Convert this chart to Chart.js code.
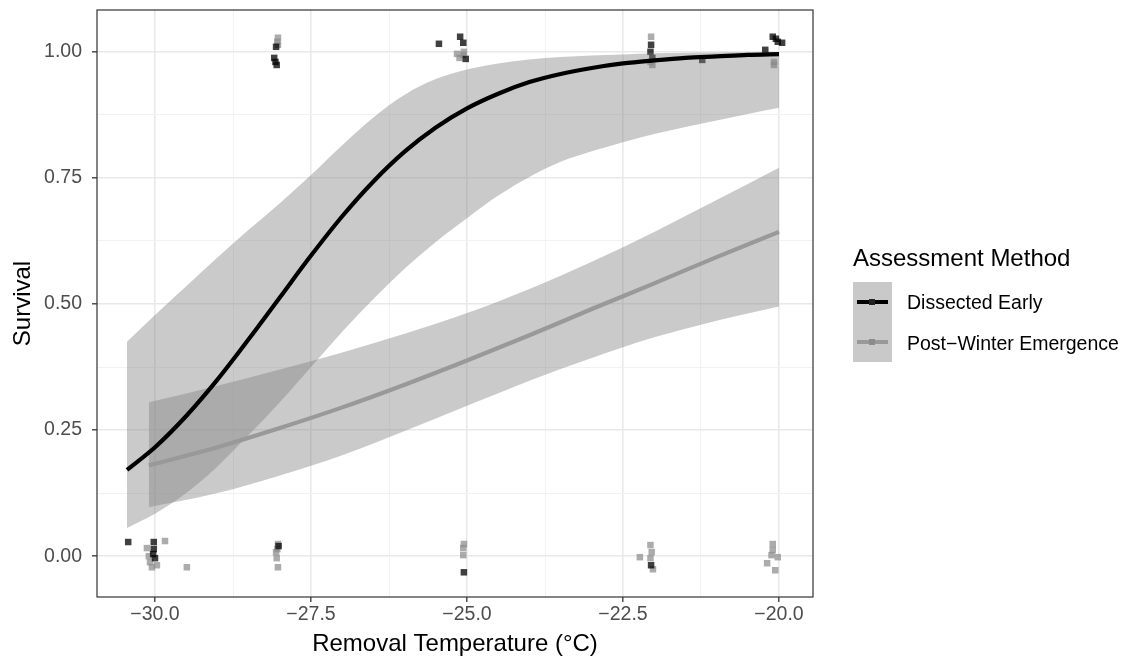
<!DOCTYPE html>
<html>
<head>
<meta charset="utf-8">
<script src="https://cdn.jsdelivr.net/npm/chart.js@4.4.1/dist/chart.umd.min.js"></script>
<style>
    body { margin: 0; background: #fff; font-family: 'Liberation Sans', Arial, sans-serif; }
    #wrap { position: relative; width: 1137px; height: 663px; }
    #legend { position: absolute; left: 0; top: 0; width: 1137px; height: 663px; pointer-events: none; }
    .lg-title { position: absolute; left: 853px; top: 244px; font-size: 24px; line-height: 28px; color: #000; white-space: nowrap; }
    .lg-key { position: absolute; left: 853px; width: 39px; height: 40px; background: #c9c9c9; }
    .lg-line { position: absolute; left: 4px; right: 4px; top: 18px; height: 4px; }
    .lg-dot { position: absolute; left: 16px; top: 17px; width: 6px; height: 6px; }
    .lg-label { position: absolute; left: 907px; font-size: 19.5px; line-height: 24px; color: #000; white-space: nowrap; }
</style>
</head>
<body>
<div id="wrap">
    <canvas id="survivalChart"></canvas>
    <div id="legend">
        <div class="lg-title">Assessment Method</div>
        <div class="lg-key" style="top:282px">
            <div class="lg-line" style="background:#000"></div><div class="lg-dot" style="background:#222"></div>
        </div>
        <div class="lg-key" style="top:322px">
            <div class="lg-line" style="background:#999"></div><div class="lg-dot" style="background:#8c8c8c"></div>
        </div>
        <div class="lg-label" style="top:290px">Dissected Early</div>
        <div class="lg-label" style="top:331px">Post−Winter Emergence</div>
    </div>
</div>
<script>
'use strict';

// ── Data ──────────────────────────────────────────────────────────────────────

const X_MAJOR = [-30, -27.5, -25, -22.5, -20];
const X_MINOR = [-28.75, -26.25, -23.75, -21.25];
const Y_MAJOR = [0, 0.25, 0.5, 0.75, 1];
const Y_MINOR = [0.125, 0.375, 0.625, 0.875];

// fitted curve + confidence band, Dissected Early
const earlyFitX = [-30.45, -30, -29.5, -29, -28.5, -28, -27.5, -27, -26.5, -26, -25.5, -25,
    -24.5, -24, -23.5, -23, -22.5, -22, -21.5, -21, -20.5, -20];
const earlyFit = [0.171, 0.216, 0.278, 0.35, 0.43, 0.513, 0.596, 0.674, 0.743, 0.802, 0.85, 0.888,
    0.917, 0.94, 0.956, 0.968, 0.977, 0.983, 0.988, 0.991, 0.994, 0.9955];
const earlyUpper = [0.425, 0.478, 0.535, 0.592, 0.647, 0.70, 0.756, 0.815, 0.87, 0.915, 0.946, 0.965,
    0.977, 0.985, 0.99, 0.993, 0.995, 0.997, 0.998, 0.9985, 0.999, 0.9993];
const earlyLower = [0.056, 0.084, 0.125, 0.178, 0.24, 0.305, 0.375, 0.445, 0.51, 0.57, 0.623, 0.67,
    0.715, 0.752, 0.782, 0.803, 0.821, 0.837, 0.851, 0.864, 0.877, 0.889];

// fitted curve + confidence band, Post-Winter Emergence
const emergFitX = [-30.1, -29, -28, -27, -26, -25, -24, -23, -22, -21, -20];
const emergFit = [0.18, 0.216, 0.254, 0.295, 0.34, 0.388, 0.438, 0.49, 0.541, 0.593, 0.643];
const emergUpper = [0.305, 0.338, 0.37, 0.404, 0.441, 0.482, 0.53, 0.584, 0.643, 0.706, 0.77];
const emergLower = [0.097, 0.125, 0.16, 0.20, 0.248, 0.298, 0.348, 0.393, 0.434, 0.467, 0.495];

// jittered observations
const earlyPtX = [-30.43, -30.02, -30.03, -30.0, -30.02,
    -28.06, -28.09, -28.05, -28.07, -28.02,
    -25.45, -25.11, -25.06, -25.02, -25.05,
    -22.05, -22.06, -22.03, -21.23, -22.05,
    -20.1, -20.02, -19.95, -20.22, -20.05];
const earlyPtY = [0.028, 0.028, 0.004, -0.004, 0.014,
    1.01, 0.988, 0.974, 0.98, 0.02,
    1.016, 1.03, 1.018, 0.986, -0.032,
    1.014, 1.0, 0.988, 0.984, -0.018,
    1.03, 1.02, 1.018, 1.004, 1.026];

const emergPtX = [-29.84, -30.13, -30.08, -30.05, -29.49, -29.97, -30.1,
    -28.03, -28.04, -28.03,
    -28.03, -28.06, -28.05, -28.03, -28.04,
    -25.16, -25.06, -25.12, -25.05,
    -25.05, -25.06, -25.06,
    -22.05, -22.03, -22.06,
    -22.06, -22.04, -22.23, -22.02, -22.06,
    -20.08, -20.08,
    -20.1, -20.12, -20.02, -20.19, -20.06, -20.1];
const emergPtY = [0.03, 0.016, -0.012, -0.022, -0.022, -0.018, 0.0,
    1.028, 1.02, 1.014,
    0.024, 0.008, -0.004, -0.022, 0.014,
    0.996, 0.994, 0.988, 1.0,
    0.024, 0.016, 0.002,
    1.03, 0.974, 0.98,
    0.022, 0.008, -0.002, -0.026, -0.004,
    0.98, 0.974,
    0.024, 0.002, -0.002, -0.014, -0.028, 0.012];

// ── Helpers ───────────────────────────────────────────────────────────────────

const RIBBON = 'rgba(128,128,128,0.42)';
const FONT = "'Liberation Sans', Arial, sans-serif";

function xy(xs, ys) {
    return xs.map((x, i) => ({ x, y: ys[i] }));
}

function minus(s) {
    return s.replace('-', '\u2212');
}

function isMajor(list, v) {
    return list.some(m => Math.abs(m - v) < 1e-9);
}

function gridOpts(major) {
    return {
        color: ctx => isMajor(major, ctx.tick.value) ? '#e9e9e9' : '#f1f1f1',
        lineWidth: ctx => isMajor(major, ctx.tick.value) ? 1.6 : 0.9,
        tickColor: ctx => isMajor(major, ctx.tick.value) ? '#333' : 'rgba(0,0,0,0)',
        tickLength: 5,
        tickWidth: 1.3,
    };
}

const panelBorder = {
    id: 'panelBorder',
    afterDatasetsDraw(chart) {
        const { ctx, chartArea: a } = chart;
        ctx.save();
        ctx.strokeStyle = '#333';
        ctx.lineWidth = 1.2;
        ctx.strokeRect(a.left, a.top, a.right - a.left, a.bottom - a.top);
        ctx.restore();
    },
};

// ── Chart ─────────────────────────────────────────────────────────────────────

const lineBase = { type: 'line', pointRadius: 0, cubicInterpolationMode: 'monotone', fill: false };

new Chart(document.getElementById('survivalChart').getContext('2d'), {
    type: 'scatter',
    data: {
        datasets: [
            { label: 'emergPts', data: xy(emergPtX, emergPtY), order: 10, pointStyle: 'rect',
                pointRadius: 4.6, backgroundColor: 'rgba(140,140,140,0.72)', borderWidth: 0 },
            { label: 'earlyPts', data: xy(earlyPtX, earlyPtY), order: 9, pointStyle: 'rect',
                pointRadius: 4.6, backgroundColor: 'rgba(0,0,0,0.75)', borderWidth: 0 },
            { ...lineBase, label: 'earlyLower', data: xy(earlyFitX, earlyLower), order: 8, borderWidth: 0 },
            { ...lineBase, label: 'earlyUpper', data: xy(earlyFitX, earlyUpper), order: 7, borderWidth: 0,
                fill: '-1', backgroundColor: RIBBON },
            { ...lineBase, label: 'emergLower', data: xy(emergFitX, emergLower), order: 6, borderWidth: 0 },
            { ...lineBase, label: 'emergUpper', data: xy(emergFitX, emergUpper), order: 5, borderWidth: 0,
                fill: '-1', backgroundColor: RIBBON },
            { ...lineBase, label: 'Post−Winter Emergence', data: xy(emergFitX, emergFit), order: 2,
                borderColor: '#999', borderWidth: 4.2 },
            { ...lineBase, label: 'Dissected Early', data: xy(earlyFitX, earlyFit), order: 1,
                borderColor: '#000', borderWidth: 4.2 },
        ],
    },
    options: {
        responsive: true,
        maintainAspectRatio: false,
        animation: false,
        layout: { padding: { top: 10, right: 324, left: 0, bottom: 0 } },
        plugins: {
            legend: { display: false },
            tooltip: { enabled: false },
            filler: { drawTime: 'beforeDatasetDraw' },
        },
        scales: {
            x: {
                type: 'linear',
                min: -30.93,
                max: -19.455,
                afterBuildTicks: s => { s.ticks = [...X_MAJOR, ...X_MINOR].sort((a, b) => a - b).map(v => ({ value: v })); },
                afterFit: s => { s.height = 66; s.paddingLeft = 0; s.paddingRight = 0; },
                border: { display: false },
                grid: gridOpts(X_MAJOR),
                ticks: {
                    autoSkip: false, maxRotation: 0, padding: 1,
                    color: '#4d4d4d', font: { family: FONT, size: 19.5 },
                    callback: v => isMajor(X_MAJOR, v) ? minus(v.toFixed(1)) : '',
                },
                title: {
                    display: true, text: 'Removal Temperature (°C)', color: '#000',
                    font: { family: FONT, size: 24 }, padding: { top: 0, bottom: 4 },
                },
            },
            y: {
                type: 'linear',
                min: -0.081,
                max: 1.083,
                afterBuildTicks: s => { s.ticks = [...Y_MAJOR, ...Y_MINOR].sort((a, b) => a - b).map(v => ({ value: v })); },
                afterFit: s => { s.width = 97; s.paddingTop = 0; s.paddingBottom = 0; },
                border: { display: false },
                grid: gridOpts(Y_MAJOR),
                ticks: {
                    autoSkip: false, padding: 10,
                    color: '#4d4d4d', font: { family: FONT, size: 19.5 },
                    callback: v => isMajor(Y_MAJOR, v) ? v.toFixed(2) : '',
                },
                title: {
                    display: true, text: 'Survival', color: '#000',
                    font: { family: FONT, size: 24 }, padding: { top: 9, bottom: 0 },
                },
            },
        },
    },
    plugins: [panelBorder],
});
</script>
</body>
</html>
